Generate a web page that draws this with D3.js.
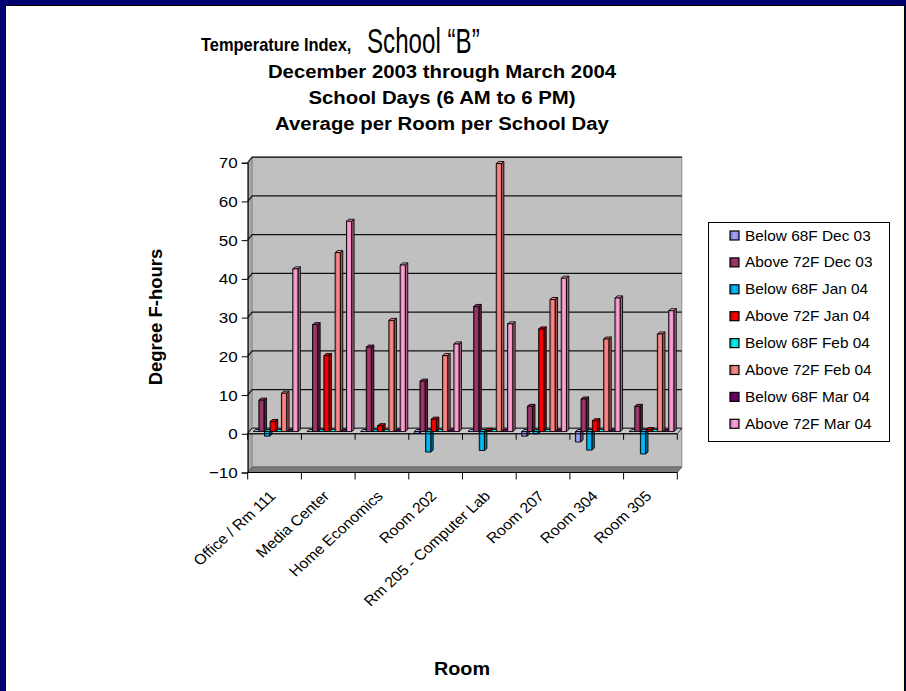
<!DOCTYPE html>
<html>
<head>
<meta charset="utf-8">
<script src="https://cdn.jsdelivr.net/npm/d3@7"></script>
<style>
body { margin: 0; background: #fff; }
text { font-family: Arial, "Liberation Sans", sans-serif; fill: #000; }
</style>
</head>
<body>
<script>
// rooms along the x axis
var rooms = ["Office / Rm 111", "Media Center", "Home Economics", "Room 202",
             "Rm 205 - Computer Lab", "Room 207", "Room 304", "Room 305"];
var seriesNames = ["Below 68F Dec 03", "Above 72F Dec 03", "Below 68F Jan 04", "Above 72F Jan 04",
                   "Below 68F Feb 04", "Above 72F Feb 04", "Below 68F Mar 04", "Above 72F Mar 04"];
var seriesColors = ["#9999FF", "#993366", "#00B4F0", "#FF0000", "#00E6E6", "#FF8080", "#660066", "#FF99CC"];

// one array per series, values per room
var belowDec = [0, 0, 0, -0.5, 0, -1.2, -2.7, 0];
var aboveDec = [8.1, 27.6, 21.8, 13, 32.3, 6.5, 8.4, 6.5];
var belowJan = [-1.2, 0, 0, -5.3, -4.9, -0.6, -4.8, -5.8];
var aboveJan = [2.6, 19.6, 1.5, 3.2, 0.3, 26.5, 2.8, 0.5];
var belowFeb = [0, 0, 0, 0, 0, 0, 0, 0];
var aboveFeb = [9.9, 46.2, 28.7, 19.6, 69.2, 34.1, 23.9, 25.2];
var belowMar = [0, 0, 0, 0, 0, 0, 0, 0];
var aboveMar = [42, 54.3, 43, 22.6, 27.8, 39.6, 34.5, 31.2];
var allSeries = [belowDec, aboveDec, belowJan, aboveJan, belowFeb, aboveFeb, belowMar, aboveMar];
var yTicks = [-10, 0, 10, 20, 30, 40, 50, 60, 70];

var W = 906, H = 691;
var SX = 1.1; // the original slide is a bit wider than tall, text looks stretched
var svg = d3.select("body").append("svg").attr("width", W).attr("height", H);

// slide frame
svg.append("rect").attr("width", W).attr("height", H).attr("fill", "#00006E");
svg.append("rect").attr("x", 6).attr("y", 6).attr("width", 898).attr("height", H).attr("fill", "#fff");
svg.append("path").attr("d", "M5.5," + H + "V5.5H904.5V" + H).attr("fill", "none").attr("stroke", "#000");

var left = 247.7, right = 677.3;
var dx = 4.5, dy = 5.5; // depth of the 3d box

var y = d3.scaleLinear().domain([-10, 70]).range([472.5, 162.7]);
var x0 = d3.scaleBand().domain(rooms).range([left, right]);
var x1 = d3.scaleBand().domain(d3.range(8)).range([0, x0.bandwidth()]).paddingInner(0).paddingOuter(0.75);

// walls
svg.append("path")
    .attr("d", "M" + left + "," + y(70) + "L" + (left + dx) + "," + (y(70) - dy) + "L" + (left + dx) + "," + (y(-10) - dy) + "L" + left + "," + y(-10) + "Z")
    .attr("fill", "#A8A8A8").attr("stroke", "#888");
svg.append("rect")
    .attr("x", left + dx).attr("y", y(70) - dy)
    .attr("width", right - left).attr("height", y(-10) - y(70))
    .attr("fill", "#C0C0C0").attr("stroke", "#8C8C8C");
svg.append("path")
    .attr("d", "M" + left + "," + y(-10) + "L" + right + "," + y(-10) + "L" + (right + dx) + "," + (y(-10) - dy) + "L" + (left + dx) + "," + (y(-10) - dy) + "Z")
    .attr("fill", "#7A7A7A").attr("stroke", "#606060");

// gridlines
var grid = svg.append("g");
yTicks.slice(1).forEach(function(v) {
    grid.append("path")
        .attr("d", "M" + left + "," + y(v) + "L" + (left + dx) + "," + (y(v) - dy) + "H" + (right + dx))
        .attr("fill", "none").attr("stroke", "#111").attr("stroke-width", 1.2);
});

// zero plane
svg.append("path")
    .attr("d", "M" + left + "," + y(0) + "L" + right + "," + y(0) + "L" + (right + dx) + "," + (y(0) - dy) + "L" + (left + dx) + "," + (y(0) - dy) + "Z")
    .attr("fill", "#CACACA").attr("stroke", "#111").attr("stroke-width", 0.8);

// gradients for the bar fronts
var defs = svg.append("defs");
seriesColors.forEach(function(c, i) {
    var g = defs.append("linearGradient").attr("id", "g" + i).attr("x1", 0).attr("x2", 1).attr("y1", 0).attr("y2", 0);
    g.append("stop").attr("offset", 0).attr("stop-color", d3.color(c).darker(0.9));
    g.append("stop").attr("offset", 0.45).attr("stop-color", d3.color(c).brighter(0.2));
    g.append("stop").attr("offset", 1).attr("stop-color", d3.color(c).darker(0.3));
});

// bars
var bw = x1.bandwidth() * 0.92, bd = 2.4, bh = 2;
var ox = dx / 2 - 1, oy = -dy / 2 + 0.5;
var bars = svg.append("g");
rooms.forEach(function(r, ri) {
    allSeries.forEach(function(s, si) {
        var v = s[ri];
        var c = seriesColors[si];
        var bx = x0(r) + x1(si) + ox;
        var yt = y(Math.max(v, 0)) + oy, yb = y(Math.min(v, 0)) + oy;
        var g = bars.append("g").attr("stroke", "#000").attr("stroke-width", 0.9).attr("stroke-linejoin", "round");
        g.append("path")
            .attr("d", "M" + (bx + bw) + "," + yt + "L" + (bx + bw + bd) + "," + (yt - bh) + "L" + (bx + bw + bd) + "," + (yb - bh) + "L" + (bx + bw) + "," + yb + "Z")
            .attr("fill", d3.color(c).darker(1.2));
        g.append("path")
            .attr("d", "M" + bx + "," + yt + "L" + (bx + bd) + "," + (yt - bh) + "L" + (bx + bw + bd) + "," + (yt - bh) + "L" + (bx + bw) + "," + yt + "Z")
            .attr("fill", d3.color(c).brighter(0.4));
        if (yb - yt > 0.3) {
            g.append("rect").attr("x", bx).attr("y", yt).attr("width", bw).attr("height", yb - yt)
                .attr("fill", "url(#g" + si + ")");
        }
    });
});

// front zero line with ticks
var zeroAxis = svg.append("g").attr("stroke", "#000");
zeroAxis.append("line").attr("x1", left).attr("x2", right).attr("y1", y(0)).attr("y2", y(0));
rooms.concat([null]).forEach(function(r) {
    var xx = r === null ? right : x0(r);
    zeroAxis.append("line").attr("x1", xx).attr("x2", xx).attr("y1", y(0)).attr("y2", y(0) + 6);
});

// bottom category axis
var catAxis = svg.append("g").attr("stroke", "#000");
catAxis.append("line").attr("x1", left).attr("x2", right).attr("y1", y(-10)).attr("y2", y(-10));
rooms.concat([null]).forEach(function(r) {
    var xx = r === null ? right : x0(r);
    catAxis.append("line").attr("x1", xx).attr("x2", xx).attr("y1", y(-10)).attr("y2", y(-10) + 7);
});
svg.append("g").selectAll("text").data(rooms).enter().append("text")
    .attr("transform", function(d) { return "translate(" + (x0(d) + x0.bandwidth() / 2 + 2) + "," + 497 + ") scale(" + SX + ",1) rotate(-45)"; })
    .attr("text-anchor", "end").attr("font-size", 14.5)
    .text(function(d) { return d; });

// value axis
var yAxis = svg.append("g").attr("transform", "translate(" + left + ",0)")
    .call(d3.axisLeft(y).tickValues(yTicks).tickSize(6).tickPadding(0).tickFormat(d3.format("d")));
yAxis.select(".domain").attr("stroke", "#000");
yAxis.selectAll(".tick line").attr("stroke", "#000");
yAxis.selectAll("text").attr("x", 0).attr("font-size", 15.5).attr("font-family", "Arial, 'Liberation Sans', sans-serif").attr("fill", "#000")
    .attr("transform", "translate(-10,0) scale(" + SX + ",1)");

// titles
svg.append("text").attr("transform", "translate(201,51) scale(0.94,1)")
    .attr("font-size", 17.5).attr("font-weight", "bold").text("Temperature Index,");
svg.append("text").attr("transform", "translate(367,53) scale(0.69,1)")
    .attr("font-size", 35).text("School \u201CB\u201D");
var subs = ["December 2003 through March 2004", "School Days (6 AM to 6 PM)", "Average per Room per School Day"];
svg.append("g").selectAll("text").data(subs).enter().append("text")
    .attr("transform", function(d, i) { return "translate(442," + (78 + i * 26) + ") scale(" + SX + ",1)"; })
    .attr("text-anchor", "middle").attr("font-size", 18.5).attr("font-weight", "bold")
    .text(function(d) { return d; });

svg.append("text").attr("transform", "translate(162,317) rotate(-90)")
    .attr("text-anchor", "middle").attr("font-size", 18.5).attr("font-weight", "bold").text("Degree F-hours");
svg.append("text").attr("transform", "translate(462,675) scale(" + SX + ",1)")
    .attr("text-anchor", "middle").attr("font-size", 18).attr("font-weight", "bold").text("Room");

// legend
var lg = svg.append("g");
lg.append("rect").attr("x", 708.5).attr("y", 222.5).attr("width", 181).attr("height", 219)
    .attr("fill", "#fff").attr("stroke", "#000");
var item = lg.selectAll("g.item").data(seriesNames).enter().append("g").attr("class", "item")
    .attr("transform", function(d, i) { return "translate(0," + (235.5 + i * 26.9) + ")"; });
item.append("rect").attr("x", 730).attr("y", -4.5).attr("width", 9).attr("height", 9)
    .attr("fill", function(d, i) { return "url(#g" + i + ")"; }).attr("stroke", "#000").attr("stroke-width", 1.2);
item.append("text").attr("transform", "translate(745,0) scale(" + SX + ",1)")
    .attr("dy", "0.36em").attr("font-size", 14).text(function(d) { return d; });
</script>
</body>
</html>
